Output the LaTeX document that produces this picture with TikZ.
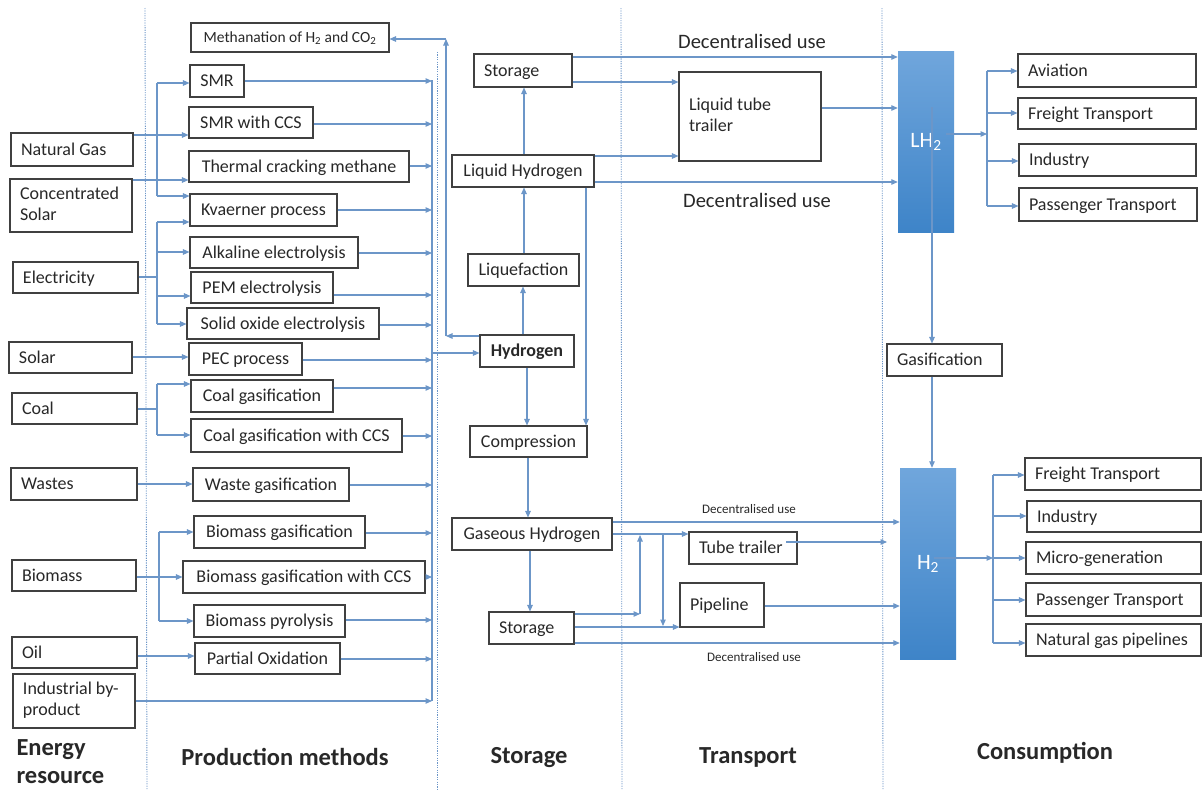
\documentclass[tikz,border=0pt]{standalone}
\usepackage{fontspec}
\setmainfont{Carlito}
\usetikzlibrary{arrows.meta}
\definecolor{lc}{RGB}{108,150,200}
\definecolor{bc}{RGB}{64,64,64}
\definecolor{tc}{RGB}{40,40,40}
\definecolor{bartop}{RGB}{112,166,220}
\definecolor{barbot}{RGB}{62,132,200}
\newcommand{\mkbox}[7]{\pgfmathsetmacro{\mybw}{#4-#2}\pgfmathsetmacro{\mybh}{#5-#3}\node[#6, minimum width=\mybw pt, minimum height=\mybh pt] (#1) at ({(#2+#4)/2},{(#3+#5)/2}) {#7};}
\newcommand{\mkboxl}[7]{\pgfmathsetmacro{\mybw}{#4-#2-20}\pgfmathsetmacro{\mybh}{#5-#3}\node[#6, minimum height=\mybh pt] (#1) at ({(#2+#4)/2},{(#3+#5)/2}) {\makebox[\mybw pt][l]{#7}};}
\newcommand{\twol}[2]{\begin{tabular}{@{}l@{}}#1\\#2\end{tabular}}
\begin{document}
\begin{tikzpicture}[x=1pt,y=-1pt,
 box/.style={draw=bc, line width=1.1pt, inner sep=0pt, text=tc, font=\fontsize{18}{21}\selectfont, text height=11.6pt, text depth=0pt},
 ml/.style={text height=, text depth=},
 lbox/.style={box, inner xsep=10pt, inner ysep=0pt},
 ln/.style={draw=lc, line width=1.1pt},
 arr/.style={ln, -{Triangle[length=6.5pt,width=5.5pt]}},
 sep/.style={draw=lc, line width=0.9pt, dash pattern=on 1.2pt off 1.2pt},
 bar/.style={top color=bartop, bottom color=barbot, draw=none, inner sep=0pt, text=white, font=\fontsize{22}{24}\selectfont},
 head/.style={font=\bfseries\fontsize{24.5}{28}\selectfont, text=tc, align=left},
 dlab/.style={text=tc, font=\fontsize{20.5}{22}\selectfont, inner sep=0pt},
 slab/.style={text=tc, font=\fontsize{13}{14}\selectfont, inner sep=0pt}]
\useasboundingbox[fill=white] (0,0) rectangle (1203,790);
% separators
\draw[sep] (145,8) -- (147,790);
\draw[sep] (437,52) -- (437,790);
\draw[sep] (621,8) -- (622,790);
\draw[sep] (882,8) -- (883,790);
% energy resources
\mkboxl{ng}{11}{133}{133}{166}{lbox}{Natural Gas}
\mkboxl{cs}{10}{179}{132}{232}{lbox,ml}{\twol{Concentrated}{Solar}}
\mkboxl{el}{13}{262}{138}{293}{lbox}{Electricity}
\mkboxl{so}{9}{342}{132}{373}{lbox}{Solar}
\mkboxl{co}{12}{393}{137}{424}{lbox}{Coal}
\mkboxl{wa}{11}{468}{137}{500}{lbox}{Wastes}
\mkboxl{bi}{12}{560}{136}{591}{lbox}{Biomass}
\mkboxl{oi}{12}{637}{137}{668}{lbox}{Oil}
\mkboxl{ib}{13}{674}{135}{728}{lbox,ml}{\twol{Industrial by-}{product}}
% production methods
\mkbox{meth}{191}{23}{389}{52}{box,font=\fontsize{15.5}{17}\selectfont,text height=10pt}{Methanation of H\textsubscript{2} and CO\textsubscript{2}}
\mkbox{smr}{190}{65}{244}{97}{box}{SMR}
\mkbox{smrc}{189}{107}{313}{138}{box}{SMR with CCS}
\mkbox{tcm}{189}{151}{409}{182}{box}{Thermal cracking methane}
\mkbox{kva}{190}{194}{337}{226}{box}{Kvaerner process}
\mkbox{alk}{190}{237}{358}{268}{box}{Alkaline electrolysis}
\mkbox{pem}{191}{272}{333}{303}{box}{PEM electrolysis}
\mkbox{soe}{187}{308}{379}{339}{box}{Solid oxide electrolysis}
\mkbox{pec}{189}{343}{302}{375}{box}{PEC process}
\mkbox{cg}{191}{380}{333}{412}{box}{Coal gasification}
\mkbox{cgc}{191}{419}{402}{452}{box}{Coal gasification with CCS}
\mkbox{wg}{193}{468}{349}{501}{box}{Waste gasification}
\mkbox{bg}{194}{516}{365}{548}{box}{Biomass gasification}
\mkbox{bgc}{183}{561}{425}{593}{box}{Biomass gasification with CCS}
\mkbox{bp}{194}{605}{345}{637}{box}{Biomass pyrolysis}
\mkbox{po}{195}{643}{340}{674}{box}{Partial Oxidation}
% storage
\mkboxl{st1}{474}{54}{572}{87}{lbox}{Storage}
\mkbox{lh}{452}{155}{594}{187}{box}{Liquid Hydrogen}
\mkbox{liq}{468}{254}{579}{286}{box}{Liquefaction}
\mkbox{hyd}{480}{335}{574}{367}{box}{\bfseries Hydrogen}
\mkbox{comp}{470}{426}{587}{457}{box}{Compression}
\mkbox{gh}{452}{518}{612}{550}{box}{Gaseous Hydrogen}
\mkboxl{st2}{489}{612}{574}{644}{lbox}{Storage}
% transport
\mkboxl{ltt}{679}{72}{821}{161}{lbox,ml}{\twol{Liquid tube}{trailer}}
\mkboxl{tt}{689}{532}{797}{564}{lbox}{Tube trailer}
\mkboxl{pip}{680}{583}{764}{627}{lbox}{Pipeline}
% consumption
\mkbox{lh2}{898}{51}{954}{232}{bar}{LH\textsubscript{2}}
\mkboxl{gas}{887}{344}{1002}{376}{lbox}{Gasification}
\mkbox{h2}{900}{468}{956}{659}{bar}{H\textsubscript{2}}
\mkboxl{av}{1018}{54}{1196}{87}{lbox}{Aviation}
\mkboxl{ft1}{1018}{98}{1196}{129}{lbox}{Freight Transport}
\mkboxl{in1}{1019}{144}{1196}{176}{lbox}{Industry}
\mkboxl{pt1}{1019}{188}{1197}{221}{lbox}{Passenger Transport}
\mkboxl{ft2}{1025}{458}{1201}{490}{lbox}{Freight Transport}
\mkboxl{in2}{1027}{501}{1201}{532}{lbox}{Industry}
\mkboxl{mg}{1026}{542}{1201}{574}{lbox}{Micro-generation}
\mkboxl{pt2}{1026}{583}{1201}{616}{lbox}{Passenger Transport}
\mkboxl{ngp}{1026}{624}{1201}{656}{lbox}{Natural gas pipelines}
% headings
\node[head, anchor=west] (hER) at (13,762) {Energy\\resource};
\node[head] (hPM) at (285,757) {Production methods};
\node[head] (hST) at (529,758) {Storage};
\node[head] (hTR) at (748,757) {Transport};
\node[head] (hCO) at (1045,753) {Consumption};
% energy -> production
\draw[arr] (ng.east |- 0,135) -- (smrc.west |- 0,135);
\draw[ln] (157,83) -- (157,196);
\draw[arr] (157,83) -- (smr.west |- 0,83);
\draw[arr] (157,196) -- (kva.west |- 0,196);
\draw[arr] (cs.east |- 0,180) -- (tcm.west |- 0,180);
\draw[ln] (el.east |- 0,277) -- (157,277);
\draw[ln] (157,222) -- (157,324);
\draw[arr] (157,222) -- (kva.west |- 0,222);
\draw[arr] (157,252) -- (alk.west |- 0,252);
\draw[arr] (157,296) -- (pem.west |- 0,296);
\draw[arr] (157,324) -- (soe.west |- 0,324);
\draw[arr] (so.east |- 0,357) -- (pec.west |- 0,357);
\draw[ln] (co.east |- 0,409) -- (157,409);
\draw[ln] (157,384) -- (157,435);
\draw[arr] (157,384) -- (cg.west |- 0,384);
\draw[arr] (157,435) -- (cgc.west |- 0,435);
\draw[arr] (wa.east |- 0,484) -- (wg.west |- 0,484);
\draw[arr] (bi.east |- 0,577) -- (bgc.west |- 0,577);
\draw[ln] (159,532) -- (159,621);
\draw[arr] (159,532) -- (bg.west |- 0,532);
\draw[arr] (159,621) -- (bp.west |- 0,621);
\draw[arr] (oi.east |- 0,656) -- (po.west |- 0,656);
\coordinate (busT) at (432,80);
\coordinate (busB) at (432,701);
\draw[arr] (ib.east |- 0,701) -- (busB);
% production -> bus
\draw[ln] (busT) -- (busB);
\draw[arr] (smr.east |- 0,81) -- (432,81);
\draw[arr] (smrc.east |- 0,124) -- (432,124);
\draw[arr] (tcm.east |- 0,166) -- (432,166);
\draw[arr] (kva.east |- 0,210) -- (432,210);
\draw[arr] (alk.east |- 0,253) -- (432,253);
\draw[arr] (pem.east |- 0,295) -- (432,295);
\draw[arr] (soe.east |- 0,325) -- (432,325);
\draw[arr] (pec.east |- 0,360) -- (432,360);
\draw[arr] (cg.east |- 0,388) -- (432,388);
\draw[arr] (cgc.east |- 0,436) -- (432,436);
\draw[arr] (wg.east |- 0,485) -- (432,485);
\draw[arr] (bg.east |- 0,533) -- (432,533);
\draw[arr] (bgc.east |- 0,577) -- (432,577);
\draw[arr] (bp.east |- 0,620) -- (432,620);
\draw[arr] (po.east |- 0,659) -- (432,659);
\draw[arr] (432,353) -- (hyd.west |- 0,353);
% hydrogen -> methanation
\coordinate (mc1) at (446,336);
\coordinate (mc2) at (446,39);
\draw[arr] (hyd.west |- mc1) -- (mc1);
\draw[arr] (mc1) -- (mc2);
\draw[arr] (mc2) -- (meth.east |- mc2);
% storage column
\draw[arr] (lh.north -| 524,0) -- (st1.south -| 524,0);
\draw[arr] (liq.north -| 524,0) -- (lh.south -| 524,0);
\draw[arr] (hyd.north -| 523,0) -- (liq.south -| 523,0);
\draw[arr] (hyd.south -| 527,0) -- (comp.north -| 527,0);
\draw[arr] (lh.south -| 586,0) -- (comp.north -| 586,0);
\draw[arr] (comp.south -| 528,0) -- (gh.north -| 528,0);
\draw[arr] (gh.south -| 530,0) -- (st2.north -| 530,0);
% liquid transport
\draw[arr] (st1.east |- 0,57) -- (lh2.west |- 0,57);
\node[dlab] (dl1) at (752,41) {Decentralised use};
\draw[arr] (st1.east |- 0,82) -- (ltt.west |- 0,82);
\draw[arr] (lh.east |- 0,156) -- (ltt.west |- 0,156);
\draw[arr] (lh.east |- 0,182) -- (lh2.west |- 0,182);
\node[dlab] (dl2) at (757,200) {Decentralised use};
\draw[arr] (ltt.east |- 0,108) -- (lh2.west |- 0,108);
% LH2 consumers
\draw[arr] (946,134) -- (987,134);
\draw[ln] (987,71) -- (987,206);
\draw[arr] (987,71) -- (av.west |- 0,71);
\draw[arr] (987,113) -- (ft1.west |- 0,113);
\draw[arr] (987,161) -- (in1.west |- 0,161);
\draw[arr] (987,206) -- (pt1.west |- 0,206);
\draw[arr] (932,107) -- (gas.north -| 932,0);
\draw[arr] (gas.south -| 932,0) -- (h2.north -| 932,0);
% H2 consumers
\draw[arr] (934,558) -- (993,558);
\draw[ln] (993,475) -- (993,643);
\draw[arr] (993,475) -- (ft2.west |- 0,475);
\draw[arr] (993,516) -- (in2.west |- 0,516);
\draw[arr] (993,558) -- (mg.west |- 0,558);
\draw[arr] (993,600) -- (pt2.west |- 0,600);
\draw[arr] (993,643) -- (ngp.west |- 0,643);
% gaseous transport
\draw[arr] (gh.east |- 0,522) -- (h2.west |- 0,522);
\node[slab] (dl3) at (749,509) {Decentralised use};
\draw[arr] (gh.east |- 0,534) -- (tt.west |- 0,534);
\coordinate (gc1) at (640,614);
\coordinate (gc2) at (640,535);
\draw[arr] (st2.east |- gc1) -- (gc1);
\draw[arr] (gc1) -- (gc2);
\coordinate (gc3) at (663,534);
\coordinate (gc4) at (663,626);
\draw[arr] (gc3) -- (gc4);
\draw[arr] (st2.east |- 0,627) -- (pip.west |- 0,627);
\draw[arr] (st2.east |- 0,643) -- (h2.west |- 0,643);
\node[slab] (dl4) at (754,657) {Decentralised use};
\coordinate (ttout) at (786,542);
\coordinate (ttend) at (887,542);
\draw[arr] (ttout) -- (ttend);
\draw[arr] (pip.east |- 0,606) -- (h2.west |- 0,606);
\end{tikzpicture}
\end{document}
